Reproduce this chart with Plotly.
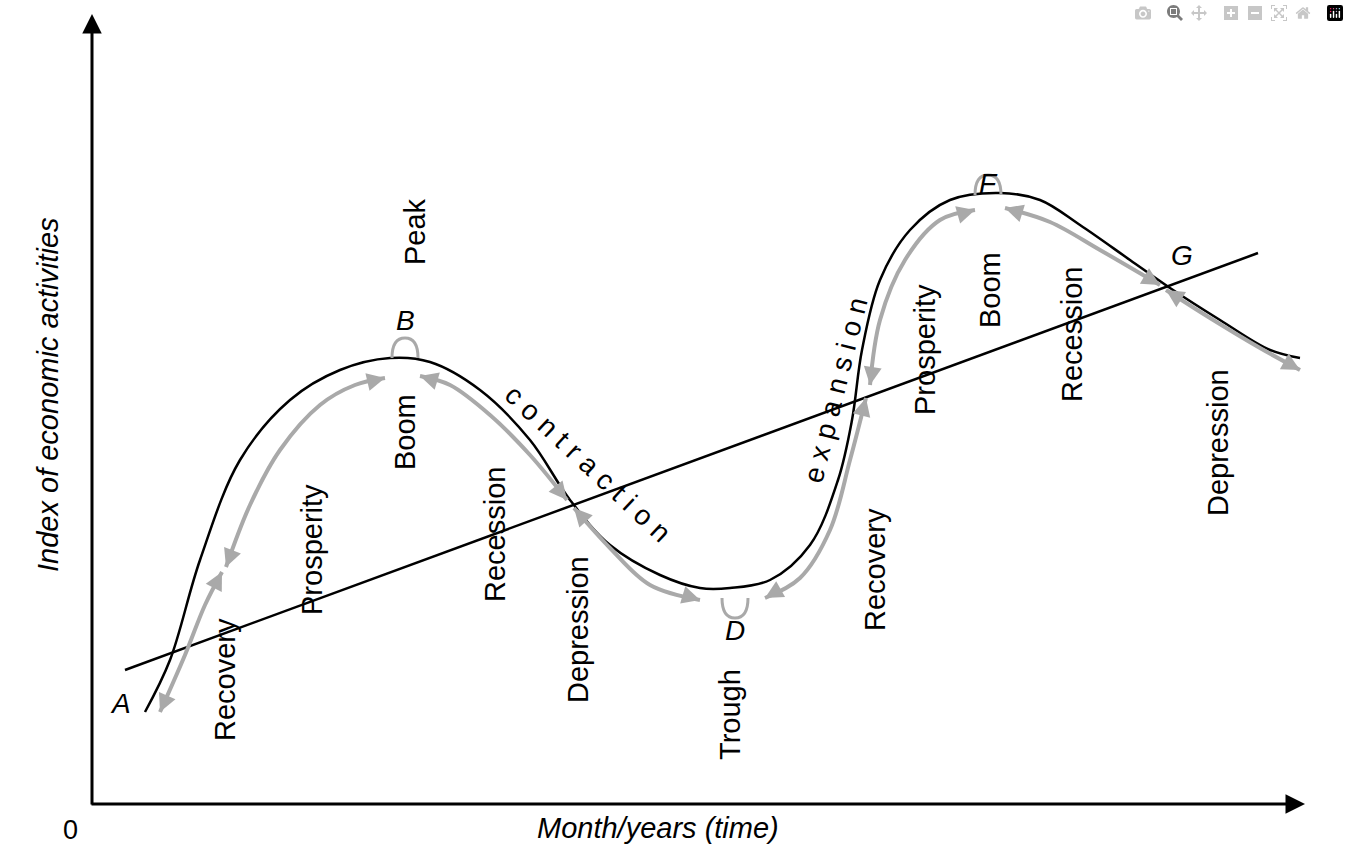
import plotly.graph_objects as go

W, H = 1349, 861
# black business-cycle curve (time, index) in picture units
cx = [145,170,200,240,290,340,390,430,480,530,570,610,660,700,730,770,810,838,852,862,880,910,950,1000,1040,1080,1130,1170,1220,1270,1300]
cy = [712,660,560,460,400,370,358,362,390,440,500,545,575,588,588,580,545,480,420,350,280,230,200,193,200,225,260,288,320,350,358]
# grey phase segments
segs = [
    ([160,185,205,222], [712,655,605,572]),
    ([226,250,280,320,355,385], [567,505,450,405,385,378]),
    ([420,450,490,530,567], [376,385,415,455,500]),
    ([574,610,650,700], [508,548,585,600]),
    ([765,800,830,850,866], [598,578,530,460,398]),
    ([870,880,905,940,975], [385,320,260,220,210]),
    ([1005,1050,1100,1160], [208,222,250,285]),
    ([1166,1210,1260,1300], [290,318,348,370]),
]
trend_x = [125, 1258]
trend_y = [670, 253]

labels = [("Recovery",225,680),("Prosperity",312,550),("Boom",405,432),("Peak",415,232),
          ("Recession",495,535),("Depression",578,630),("Trough",730,715),("Recovery",875,570),
          ("Prosperity",925,350),("Boom",990,290),("Recession",1072,335),("Depression",1218,443)]
letters = [("A",120,703),("B",405,320),("D",735,630),("F",988,183),("G",1182,255)]
# small grey arcs at turning points (center x, curve y, bulge direction)
arcs = [(405,358,-1),(735,598,1),(988,195,-1)]

Y = lambda v: H - v
F = "Liberation Sans"
fig = go.Figure()
fig.add_trace(go.Scatter(x=trend_x, y=[Y(v) for v in trend_y], mode="lines", line=dict(color="black", width=2.5), hoverinfo="skip"))
fig.add_trace(go.Scatter(x=cx, y=[Y(v) for v in cy], mode="lines", line=dict(color="black", width=2.5, shape="spline"), hoverinfo="skip"))
ann = []
for sx, sy in segs:
    fig.add_trace(go.Scatter(x=sx, y=[Y(v) for v in sy], mode="lines", line=dict(color="#a9a9a9", width=4, shape="spline"), hoverinfo="skip"))
    for (ex, ey, px, py) in [(sx[0], sy[0], sx[1], sy[1]), (sx[-1], sy[-1], sx[-2], sy[-2])]:
        dx, dy = px - ex, py - ey
        n = (dx*dx + dy*dy) ** 0.5
        ann.append(dict(x=ex, y=Y(ey), ax=ex + dx/n*12, ay=Y(ey + dy/n*12), xref="x", yref="y", axref="x", ayref="y",
                        showarrow=True, arrowhead=2, arrowsize=1.2, arrowwidth=3, arrowcolor="#a9a9a9", text=""))
shapes = []
for ax_, ay_, d in arcs:
    shapes.append(dict(type="path", xref="x", yref="y",
                       path=f"M {ax_-13},{Y(ay_)} Q {ax_-13},{Y(ay_+d*20)} {ax_},{Y(ay_+d*20)} Q {ax_+13},{Y(ay_+d*20)} {ax_+13},{Y(ay_)}",
                       line=dict(color="#a9a9a9", width=3)))
for t, x, y in labels:
    ann.append(dict(x=x, y=Y(y), text=t, showarrow=False, textangle=-90, font=dict(size=29, color="black", family=F)))
for t, x, y in letters:
    ann.append(dict(x=x, y=Y(y), text="<i>"+t+"</i>", showarrow=False, font=dict(size=28, color="black", family=F)))
ann.append(dict(x=588, y=Y(463), text="c o n t r a c t i o n", showarrow=False, textangle=43, font=dict(size=28, color="black", family=F)))
ann.append(dict(x=835, y=Y(390), text="e x p a n s i o n", showarrow=False, textangle=-76, font=dict(size=28, color="black", family=F)))
ann.append(dict(x=70, y=Y(830), text="0", showarrow=False, font=dict(size=27, color="black", family=F)))
ann.append(dict(x=658, y=Y(828), text="<i>Month/years (time)</i>", showarrow=False, font=dict(size=29, color="black", family=F)))
ann.append(dict(x=48, y=Y(395), text="<i>Index of economic activities</i>", showarrow=False, textangle=-90, font=dict(size=29, color="black", family=F)))
# axes arrows
ann.append(dict(x=92, y=Y(14), ax=92, ay=Y(806), xref="x", yref="y", axref="x", ayref="y", showarrow=True, arrowhead=2, arrowsize=1.3, arrowwidth=3, arrowcolor="black", text=""))
ann.append(dict(x=1305, y=Y(804), ax=90, ay=Y(804), xref="x", yref="y", axref="x", ayref="y", showarrow=True, arrowhead=2, arrowsize=1.3, arrowwidth=3, arrowcolor="black", text=""))

fig.update_layout(width=W, height=H, margin=dict(l=0, r=0, t=0, b=0), showlegend=False,
                  plot_bgcolor="white", paper_bgcolor="white", annotations=ann, shapes=shapes,
                  xaxis=dict(range=[0, W], visible=False), yaxis=dict(range=[0, H], visible=False))
fig.write_html("out.html", post_script="document.body.style.margin='0';document.body.style.overflow='hidden';")
